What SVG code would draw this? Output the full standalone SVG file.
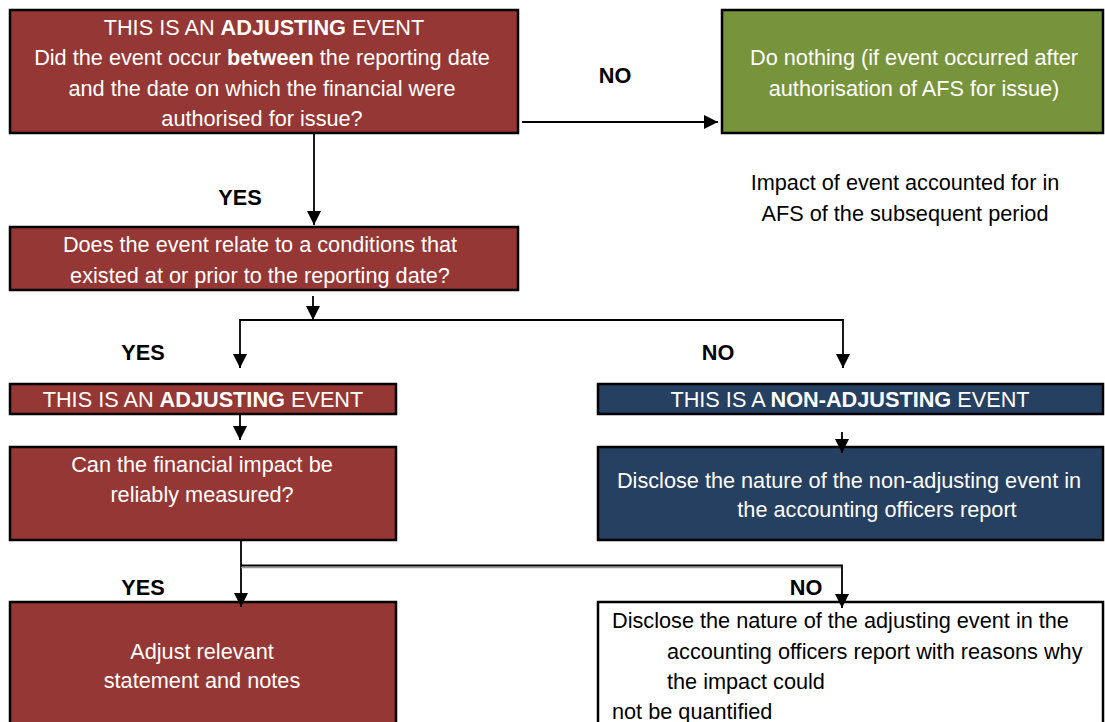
<svg xmlns="http://www.w3.org/2000/svg" width="1105" height="722" viewBox="0 0 1105 722">
<defs>
<marker id="ah" markerWidth="14" markerHeight="14" refX="14" refY="7" orient="auto" markerUnits="userSpaceOnUse">
<path d="M0,0 L14,7 L0,14 Z" fill="#000"/>
</marker>
<style>
text{font-family:"Liberation Sans",Arial,sans-serif;font-size:21.7px}
.w{fill:#fff}
.k{fill:#000}
.c{text-anchor:middle}
.b{font-weight:bold}
.red{fill:#953735;stroke:#000;stroke-width:2.5}
.grn{fill:#77933C;stroke:#000;stroke-width:2.5}
.blu{fill:#254061;stroke:#000;stroke-width:2.5}
.wht{fill:#fff;stroke:#000;stroke-width:2.5}
.ln{fill:none;stroke:#000;stroke-width:1.8}
</style>
</defs>
<rect width="1105" height="722" fill="#fff"/>
<g id="lbl-no1"><text class="k b c" x="615" y="83">NO</text></g>
<g id="lbl-yes1"><text class="k b c" x="240" y="205">YES</text></g>
<g id="lbl-yes2"><text class="k b c" x="143" y="360">YES</text></g>
<g id="lbl-no2"><text class="k b c" x="718" y="360">NO</text></g>
<g id="lbl-yes3"><text class="k b c" x="143" y="595">YES</text></g>
<g id="lbl-no3"><text class="k b c" x="806" y="595">NO</text></g>
<g id="n1">
<rect class="red" x="10" y="10" width="508" height="123"/>
<text class="w c" x="264" y="35">THIS IS AN <tspan class="b">ADJUSTING</tspan> EVENT</text>
<text class="w c" x="262" y="65">Did the event occur <tspan class="b">between</tspan> the reporting date</text>
<text class="w c" x="262" y="96">and the date on which the financial were</text>
<text class="w c" x="262" y="126">authorised for issue?</text>
</g>
<g id="n2">
<rect class="grn" x="722" y="10" width="381" height="123"/>
<text class="w c" x="914" y="65">Do nothing (if event occurred after</text>
<text class="w c" x="914" y="96">authorisation of AFS for issue)</text>
</g>
<g id="note">
<text class="k c" x="905" y="190">Impact of event accounted for in</text>
<text class="k c" x="905" y="221">AFS of the subsequent period</text>
</g>
<g id="n3">
<rect class="red" x="10" y="227" width="508" height="63"/>
<text class="w c" x="260" y="252">Does the event relate to a conditions that</text>
<text class="w c" x="260" y="283">existed at or prior to the reporting date?</text>
</g>
<g id="n4">
<rect class="red" x="10" y="384" width="386" height="30"/>
<text class="w c" x="203" y="407">THIS IS AN <tspan class="b">ADJUSTING</tspan> EVENT</text>
</g>
<g id="n5">
<rect class="blu" x="598" y="384" width="505" height="30"/>
<text class="w c" x="850" y="407">THIS IS A <tspan class="b">NON-ADJUSTING</tspan> EVENT</text>
</g>
<g id="n6">
<rect class="red" x="10" y="447" width="386" height="93"/>
<text class="w c" x="202" y="472">Can the financial impact be</text>
<text class="w c" x="202" y="502">reliably measured?</text>
</g>
<g id="n7">
<rect class="blu" x="598" y="447" width="505" height="93"/>
<text class="w c" x="849" y="488">Disclose the nature of the non-adjusting event in</text>
<text class="w c" x="877" y="517">the accounting officers report</text>
</g>
<g id="n8">
<rect class="red" x="10" y="602" width="386" height="130"/>
<text class="w c" x="202" y="659">Adjust relevant</text>
<text class="w c" x="202" y="688">statement and notes</text>
</g>
<g id="n9">
<rect class="wht" x="598" y="602" width="505" height="130"/>
<text class="k" x="612" y="628">Disclose the nature of the adjusting event in the</text>
<text class="k" x="667" y="659">accounting officers report with reasons why</text>
<text class="k" x="667" y="689">the impact could</text>
<text class="k" x="612" y="719">not be quantified</text>
</g>
<g id="connectors">
<line class="ln" x1="522" y1="122" x2="718" y2="122" marker-end="url(#ah)"/>
<line class="ln" x1="314" y1="133" x2="314" y2="225" marker-end="url(#ah)"/>
<line class="ln" x1="313" y1="296" x2="313" y2="320" marker-end="url(#ah)"/>
<polyline class="ln" points="240,368 240,320 843,320 843,368"/>
<line class="ln" x1="240" y1="354" x2="240" y2="368" marker-end="url(#ah)"/>
<line class="ln" x1="843" y1="354" x2="843" y2="368" marker-end="url(#ah)"/>
<line class="ln" x1="240" y1="414" x2="240" y2="440" marker-end="url(#ah)"/>
<line class="ln" x1="842" y1="432" x2="842" y2="453" marker-end="url(#ah)"/>
<line class="ln" x1="241" y1="540" x2="241" y2="607" marker-end="url(#ah)"/>
<line x1="241" y1="567.5" x2="842" y2="567.5" stroke="#999" stroke-width="1.5"/>
<polyline class="ln" points="241,565.5 842,565.5 842,608" marker-end="url(#ah)"/>
</g>
</svg>
